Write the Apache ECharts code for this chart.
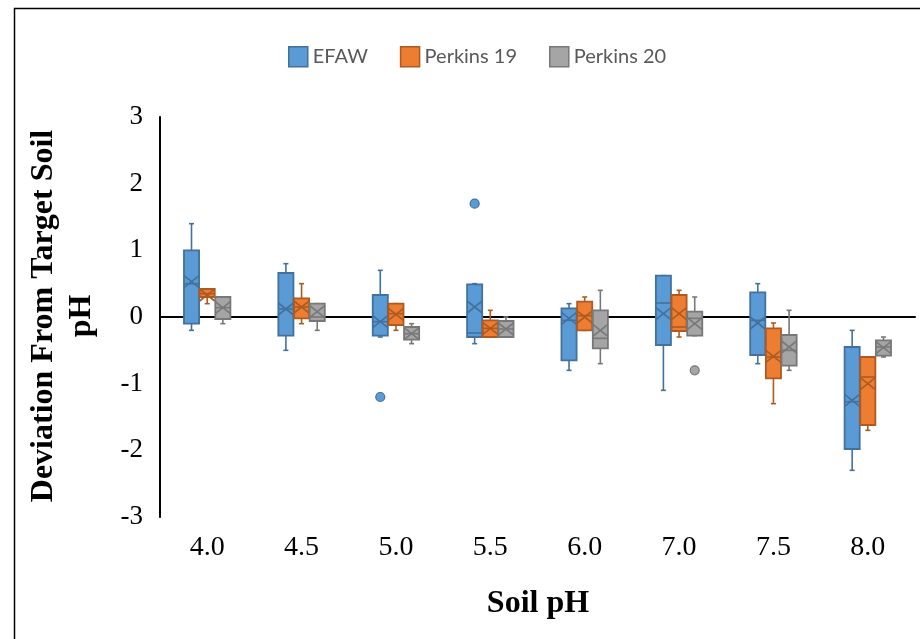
<!DOCTYPE html>
<html>
<head>
<meta charset="utf-8">
<script src="https://cdn.jsdelivr.net/npm/echarts@6/dist/echarts.min.js"></script>
<style>
  html, body { margin: 0; padding: 0; background: #fff; }
  #chart { width: 920px; height: 639px; }
</style>
</head>
<body>
<div id="chart"></div>
<script>
// Soil pH targets
const categories = ['4.0', '4.5', '5.0', '5.5', '6.0', '7.0', '7.5', '8.0'];
const yTicks = [-3, -2, -1, 0, 1, 2, 3];

// Box statistics per pH: [min, Q1, median, Q3, max]
const efawStats = [
  [-0.2, -0.1, 0.5, 1.0, 1.4],
  [-0.5, -0.28, 0.12, 0.66, 0.8],
  [-0.3, -0.28, -0.07, 0.33, 0.7],
  [-0.4, -0.3, -0.24, 0.49, 0.5],
  [-0.8, -0.65, -0.05, 0.13, 0.2],
  [-1.1, -0.42, 0.21, 0.62, 0.62],
  [-0.7, -0.57, -0.05, 0.37, 0.5],
  [-2.3, -1.98, -1.27, -0.45, -0.2]
];
const efawMean = [0.53, 0.12, -0.07, 0.15, -0.02, 0.05, -0.09, -1.25];
const efawOutliers = [[2, -1.2], [3, 1.7]];

const perkins19Stats = [
  [0.2, 0.3, 0.35, 0.42, 0.42],
  [-0.1, -0.02, 0.15, 0.28, 0.5],
  [-0.2, -0.12, 0.05, 0.2, 0.2],
  [-0.3, -0.3, -0.17, -0.05, 0.1],
  [-0.2, -0.2, 0.02, 0.23, 0.3],
  [-0.3, -0.21, -0.15, 0.33, 0.4],
  [-1.3, -0.92, -0.6, -0.17, -0.09],
  [-1.7, -1.62, -0.9, -0.6, -0.6]
];
const perkins19Mean = [0.33, 0.15, 0.04, -0.17, 0.0, 0.05, -0.59, -1.0];
const perkins19Outliers = [];

const perkins20Stats = [
  [-0.1, -0.03, 0.14, 0.3, 0.3],
  [-0.2, -0.06, 0.0, 0.2, 0.2],
  [-0.4, -0.34, -0.25, -0.15, -0.1],
  [-0.3, -0.3, -0.18, -0.06, 0.0],
  [-0.7, -0.47, -0.32, 0.1, 0.4],
  [-0.28, -0.28, -0.02, 0.08, 0.3],
  [-0.8, -0.73, -0.5, -0.27, 0.1],
  [-0.6, -0.58, -0.45, -0.35, -0.3]
];
const perkins20Mean = [0.14, 0.08, -0.25, -0.18, -0.2, -0.1, -0.45, -0.46];
const perkins20Outliers = [[5, -0.8]];

const groups = [
  { name: 'EFAW', stats: efawStats, mean: efawMean, outliers: efawOutliers, fill: '#5B9BD5', stroke: '#41719C' },
  { name: 'Perkins 19', stats: perkins19Stats, mean: perkins19Mean, outliers: perkins19Outliers, fill: '#ED7D31', stroke: '#AE5A21' },
  { name: 'Perkins 20', stats: perkins20Stats, mean: perkins20Mean, outliers: perkins20Outliers, fill: '#A5A5A5', stroke: '#787878' }
];

const SLOT_STEP = 0.166;  // offset between neighbouring boxes, as a share of the category band
const BOX_HALF = 0.08;    // half box width, as a share of the category band

function boxRenderer(slot, g) {
  return function (params, api) {
    const idx = api.value(0);
    const band = api.size([1, 0])[0];
    const cx = api.coord([idx, 0])[0] + (slot - 1) * band * SLOT_STEP;
    const half = band * BOX_HALF;
    const y = v => api.coord([idx, v])[1];
    const yMin = y(api.value(1)), yQ1 = y(api.value(2)), yMed = y(api.value(3));
    const yQ3 = y(api.value(4)), yMax = y(api.value(5)), yMean = y(api.value(6));
    const ln = { stroke: g.stroke, lineWidth: 1.6 };
    const cap = 2.5;
    const xw = half, xh = 6;
    return {
      type: 'group',
      children: [
        { type: 'line', shape: { x1: cx, y1: yQ3, x2: cx, y2: yMax }, style: ln },
        { type: 'line', shape: { x1: cx - cap, y1: yMax, x2: cx + cap, y2: yMax }, style: ln },
        { type: 'line', shape: { x1: cx, y1: yQ1, x2: cx, y2: yMin }, style: ln },
        { type: 'line', shape: { x1: cx - cap, y1: yMin, x2: cx + cap, y2: yMin }, style: ln },
        { type: 'rect', shape: { x: cx - half, y: yQ3, width: half * 2, height: yQ1 - yQ3 },
          style: { fill: g.fill, stroke: g.stroke, lineWidth: 1.8 } },
        { type: 'line', shape: { x1: cx - half, y1: yMed, x2: cx + half, y2: yMed }, style: ln },
        { type: 'line', shape: { x1: cx - xw, y1: yMean - xh, x2: cx + xw, y2: yMean + xh }, style: ln },
        { type: 'line', shape: { x1: cx - xw, y1: yMean + xh, x2: cx + xw, y2: yMean - xh }, style: ln }
      ]
    };
  };
}

function outlierRenderer(slot, g) {
  return function (params, api) {
    const idx = api.value(0);
    const band = api.size([1, 0])[0];
    const p = api.coord([idx, api.value(1)]);
    return {
      type: 'circle',
      shape: { cx: p[0] + (slot - 1) * band * SLOT_STEP, cy: p[1], r: 4.5 },
      style: { fill: g.fill, stroke: g.stroke, lineWidth: 1.2 }
    };
  };
}

const series = [];
groups.forEach((g, slot) => {
  series.push({
    name: g.name,
    type: 'custom',
    renderItem: boxRenderer(slot, g),
    itemStyle: { color: g.fill, borderColor: g.stroke, borderWidth: 1.5 },
    encode: { x: 0, y: [1, 2, 3, 4, 5, 6] },
    data: categories.map((c, i) => [i].concat(g.stats[i], [g.mean[i]]))
  });
  if (g.outliers.length) {
    series.push({
      name: g.name,
      type: 'custom',
      renderItem: outlierRenderer(slot, g),
      itemStyle: { color: g.fill, borderColor: g.stroke },
      encode: { x: 0, y: 1 },
      data: g.outliers
    });
  }
});

const chart = echarts.init(document.getElementById('chart'), null, { renderer: 'canvas' });
chart.setOption({
  animation: false,
  backgroundColor: '#ffffff',
  grid: { left: 160, right: 5, top: 117, bottom: 122, containLabel: false },
  legend: {
    top: 41,
    left: 283,
    itemWidth: 19,
    itemHeight: 20,
    itemGap: 32,
    icon: 'rect',
    textStyle: { fontFamily: 'Lato', fontSize: 20, color: '#595959' },
    data: groups.map(g => ({ name: g.name, itemStyle: { color: g.fill, borderColor: g.stroke, borderWidth: 1.5 } }))
  },
  xAxis: {
    type: 'category',
    data: categories,
    boundaryGap: true,
    axisLine: { show: true, lineStyle: { color: '#000', width: 2 } },
    axisTick: { show: false },
    axisLabel: { fontFamily: 'Liberation Serif', fontSize: 28, color: '#000', margin: 17 },
    splitLine: { show: false }
  },
  yAxis: {
    type: 'value',
    min: yTicks[0],
    max: yTicks[yTicks.length - 1],
    interval: 1,
    axisLine: { show: true, lineStyle: { color: '#000', width: 2 } },
    axisTick: { show: false },
    axisLabel: { fontFamily: 'Liberation Serif', fontSize: 27, color: '#000', margin: 17 },
    splitLine: { show: false }
  },
  graphic: [
    { type: 'rect', left: 12, top: 6, shape: { width: 930, height: 660 },
      style: { fill: 'none', stroke: '#000', lineWidth: 1.5 }, silent: true, z: 100 },
    { type: 'text', x: 63, y: 316, rotation: Math.PI / 2,
      style: { text: 'Deviation From Target Soil\npH', textAlign: 'center', textVerticalAlign: 'middle',
               fontFamily: 'Liberation Serif', fontWeight: 'bold', fontSize: 32, lineHeight: 38, fill: '#000' } },
    { type: 'text', x: 538, y: 604,
      style: { text: 'Soil pH', textAlign: 'center', textVerticalAlign: 'middle',
               fontFamily: 'Liberation Serif', fontWeight: 'bold', fontSize: 32, fill: '#000' } }
  ],
  series: series
});
</script>
</body>
</html>
